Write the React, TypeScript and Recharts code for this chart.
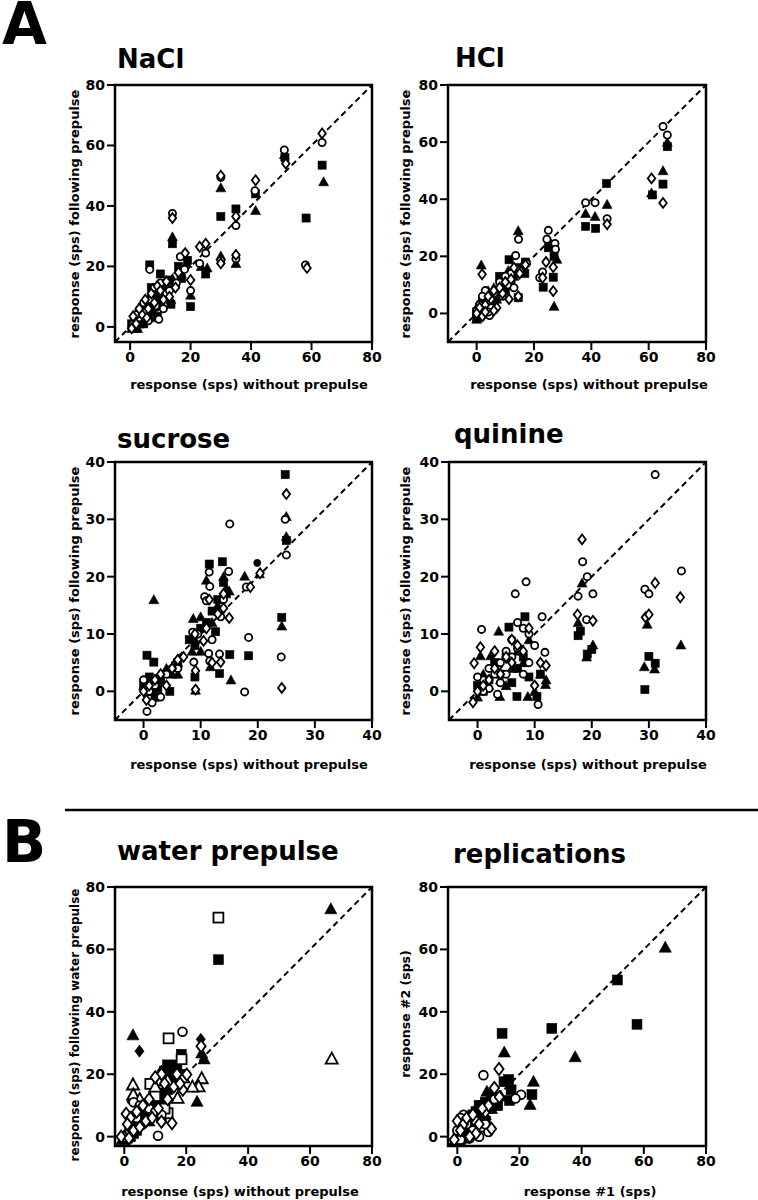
import React from "react";
import { ScatterChart, Scatter, XAxis, YAxis, ReferenceArea, ReferenceLine } from "recharts";

type Pt = [number, number];
type Kind = "circle" | "square" | "triangle" | "diamond";

// ---- NaCl ----
const naclSquares: Pt[] = [
  [63.5, 53.5], [51.2, 56], [58.2, 36], [41.5, 44], [35, 39], [30, 36.5], [25, 17.5], [20, 6.7], [14, 27.5],
  [10, 17.5], [6.5, 20.5], [16, 20], [13.5, 7.5], [17, 16], [19, 22], [12, 13], [8.5, 11], [10, 8], [7, 9],
  [5.5, 6], [4, 3], [2.5, 1.5], [1, 0], [3.5, 5], [6, 4], [8, 6.5], [11, 10], [2, -0.5], [4.5, 1], [9, 3.5],
  [15, 14], [13, 15.5], [7, 13], [5, 7.5], [3, 3], [0.5, 1], [1.5, 2.5], [3, 4.5], [4, 6.5], [5, 5],
  [6, 7.5], [7, 6], [8, 10], [9, 8], [2, 3.5],
];
const naclTriangles: Pt[] = [
  [64, 48], [51, 57], [41.5, 38.5], [35, 21], [30, 46], [30, 23.5], [25.5, 19.5], [23.5, 20], [20, 10.5],
  [14, 29.8], [13.5, 9], [18.8, 21], [16, 19], [12, 12], [9, 11], [6, 8], [7.5, 5], [4, 5], [2, 2], [1, 0.5],
  [3, 1], [5, 3.5], [10, 7], [11, 14], [14, 16], [17, 17.5], [8, 9.5], [2.5, -0.5], [4.5, 6.5], [6.5, 3],
  [0.5, -0.5], [1.5, 1.5], [3, 3.5], [4, 2], [5.5, 5], [6, 6.5], [7, 8], [8, 7], [9.5, 9.5], [3.5, 6],
];
const naclCircles: Pt[] = [
  [63.5, 61], [51, 58.5], [58, 20.5], [41.3, 45], [35, 33.5], [35, 22.5], [30, 49.5], [30, 22], [25, 24.4],
  [23, 21], [20, 12], [14, 37.5], [6.5, 19], [16.6, 23.2], [15.3, 14.5], [10, 14.5], [8, 13], [9.5, 2.5],
  [7, 9], [5, 5], [3, 3], [1, 1], [12, 11], [4.5, 8], [2, 4], [11, 6], [6, 2], [13, 12], [18, 19], [8.5, 7],
];
const naclDiamonds: Pt[] = [
  [63.5, 64], [51.5, 54], [58.5, 19.5], [41.5, 48.5], [35, 36.5], [35, 23.8], [30, 50], [30, 21], [25, 27.5],
  [23, 26.5], [20, 15.5], [14, 36], [18.2, 24.4], [16, 18], [12, 15], [9, 13.5], [7, 11], [5, 9], [1, 3.5],
  [2, 1], [4, 4], [6, 6], [8, 8], [10, 12], [11, 9], [13, 10], [3, 6], [15, 13], [0.5, -0.5], [5.5, 3],
];

// ---- HCl ----
const hclSquares: Pt[] = [
  [66.5, 58.4], [65, 45.3], [61.3, 41.5], [45.3, 45.5], [38, 30.5], [41.5, 29.8], [26.7, 12.7], [23.2, 9.2],
  [16.8, 14], [11.3, 18.8], [14.5, 5.5], [27, 20], [25, 23], [12, 12], [9, 10], [7, 6], [5, 4], [3, 2], [1, 0],
  [0, -1.5], [2, 5], [4, 1], [6, 3], [10, 8], [13, 14], [15, 16], [8, 13], [17, 18], [1.5, 3],
  [0, 0.5], [1, 2], [2, 1], [3, 4], [4, 3], [5, 6], [6, 5], [2.5, 3], [1.5, -0.5], [4.5, 5],
];
const hclTriangles: Pt[] = [
  [66.5, 60], [65, 50], [61, 42.2], [45.5, 38.2], [38, 35], [41.3, 34], [27, 2.5], [14.5, 29], [1.6, 17],
  [26, 24], [28, 19], [13, 13], [10, 12], [9, 9], [11, 15], [5, 6], [3, 4], [1, 1], [0, -2], [2, 2], [4, 8],
  [7, 5], [6, 9], [12, 10], [16, 17], [0.5, 3], [0.5, 0], [1.5, 3.5], [2.5, 1.5], [3.5, 2.5], [4.5, 4],
  [6, 6.5], [7, 7], [3, 6], [5.5, 3], [1, -1],
];
const hclCircles: Pt[] = [
  [65, 65.5], [66.5, 62.5], [45.5, 33.2], [38, 38.8], [41.3, 38.8], [25, 29.1], [24.5, 26], [27.3, 24.5],
  [27.5, 22.5], [23, 14.5], [14.6, 26], [13.6, 20.3], [17.4, 17.5], [12, 14], [10, 13], [8, 11], [6, 7],
  [3, 8], [2, 6], [1, 3], [0, 1], [4, 4], [5, 2], [4.5, -0.7], [11, 10], [13, 9], [9, 6], [15, 15], [4, 0.5],
  [22, 12.5],
];
const hclDiamonds: Pt[] = [
  [65, 38.7], [61, 47.3], [45.5, 31.2], [26.7, 16.2], [26.7, 7.8], [24.2, 18], [23, 12.5], [1.9, 13.7],
  [14.5, 6], [11.3, 5], [9, 7], [7, 2], [5, 5], [3, 3], [1, 2], [0, 0], [2, -1], [4, 6], [6, 8], [8, 9],
  [10, 11], [12, 12], [15, 14], [17, 17], [13, 16], [6, 1], [3, 0.5],
];

// ---- sucrose ----
const sucroseSquares: Pt[] = [
  [24.8, 37.8], [25, 26.3], [24.2, 12.9], [13.8, 22.6], [11.5, 22.2], [12.6, 10.4], [15.1, 6.4], [18.4, 6.2],
  [13.3, 3.1], [0.6, 6.3], [1.8, 5.1], [4.6, 0], [9, 2.5], [14, 19], [13, 16], [12, 14], [10, 11], [9, 8],
  [6, 5], [3, 2], [1, 0], [2, -1], [0, 1], [8, 9], [11, 12], [14.5, 17], [1, 2.5], [2.5, 0.5],
];
const sucroseTriangles: Pt[] = [
  [25, 30.5], [25, 27], [24.2, 11.4], [17.7, 20.1], [11, 19.4], [15.3, 2], [1.8, 16], [9.1, 0.2], [8.7, 12.7],
  [14.5, 18], [14, 20], [13, 15], [12, 12], [9, 9], [10, 7], [6, 5], [5, 3], [3, 2], [1, 0], [0, 1], [2, -1],
  [8.5, 7], [11.7, 4.3], [20.3, 20.5], [10, 13], [15, 17.5], [4, 4], [6, 3],
];
const sucroseCircles: Pt[] = [
  [24.8, 30], [25, 23.8], [24.1, 6], [15.1, 29.2], [18, 18.2], [11.5, 20.8], [14.9, 20.9], [11.6, 18.3],
  [18.4, 9.4], [17.7, -0.1], [0.6, -3.5], [11.4, 6.6], [8.8, 5.1], [8.6, 10.3], [10.7, 16.5], [11, 15.8],
  [13.3, 6.5], [11.6, 5.3], [13.5, 13], [12, 9], [14, 16], [6, 4], [4, 3], [2, 1], [1, 0], [0, 2], [3, -1],
  [5, 4], [9.5, 10], [1.5, -2],
];
const sucroseDots: Pt[] = [[19.9, 22.4]];
const sucroseDiamonds: Pt[] = [
  [25, 34.4], [24.2, 0.6], [20.4, 20.6], [18.7, 18.2], [9.1, 3.6], [9.1, 0.3], [10.5, 8.8], [14, 14.5],
  [15, 12.8], [13, 13.5], [12, 5], [13.5, 5.1], [11, 11], [9, 10], [6, 5.5], [5, 4], [3, 3], [1, 1], [0, 0],
  [2, 2], [4, 1], [0.5, -1.5], [7, 6], [11.5, 16], [14, 17],
];

// ---- quinine ----
const quinineSquares: Pt[] = [
  [29.3, 0.3], [30, 6.1], [31.1, 4.9], [17.6, 9.7], [18, 10.5], [20, 7.3], [19.2, 6.5], [5.5, 11.2], [8.3, 13],
  [6.9, -0.9], [10.4, -0.9], [7, 4], [8, 6], [9, 2.5], [11, 3], [6, 1.5], [4, 3], [3, 5], [2, 2], [1, 0],
  [0, 1], [8.5, 5], [5, 6],
];
const quinineTriangles: Pt[] = [
  [35.6, 8.1], [29.7, 11.7], [29.2, 4.3], [31, 3.9], [18.3, 18.9], [17.6, 12], [20.2, 8.1], [19.1, 6],
  [3.7, 10.5], [8.8, -0.9], [11.9, 1.2], [3.9, -0.9], [0.5, 6.2], [2.3, 6.2], [7, 7], [8, 5], [11, 3],
  [12, 2], [10, 0], [6, 4], [5, 1], [2, 1], [1, 3], [0, -1], [9, 9], [4, 2],
];
const quinineCircles: Pt[] = [
  [31.1, 37.8], [18.4, 22.6], [19.2, 20], [17.6, 16.6], [20.2, 17], [19.1, 12.5], [35.7, 21], [29.3, 17.8],
  [30, 17], [6.6, 17], [8.5, 19.1], [0.7, 10.8], [11.3, 13], [11.8, 6.8], [10.6, -2.3], [7, 12], [8, 11],
  [9, 10], [6, 9], [5, 7], [4, 5], [3, 3], [2, 4], [1, 2], [0, 2.5], [2, 0.5], [3.5, -0.5], [5, 3], [7, 7.5],
  [9, 5], [10, 8], [6, 6], [1, 0], [4, 1.5], [8, 3],
];
const quinineDiamonds: Pt[] = [
  [18.3, 26.5], [17.5, 13.4], [20.2, 12.3], [35.5, 16.4], [31.1, 18.9], [29.4, 12.9], [30, 13.4], [0.5, 7.7],
  [-0.6, 4.9], [-0.8, -1.9], [11, 5], [12, 4.5], [10, 1], [7, 8], [5, 6], [3, 4], [2, 2], [1, 1], [0, 0],
  [4, 3], [6, 9], [8, 7], [9, 11], [3, 7], [6, 5],
];

// ---- water prepulse ----
const waterSquares: Pt[] = [
  [30.4, 56.7], [18.4, 26.4], [14, 23], [15, 22], [13, 21], [16, 19], [17, 18], [12, 12], [10, 10], [11, 8],
  [9, 11], [8, 7], [7, 6], [6, 5], [5, 4], [4, 2], [3, 1], [2, 0], [1, -0.5], [13, 14], [15, 16], [18, 20],
  [10, 14], [6, 9], [12, 6], [2, 1.5], [3, 3], [4, 5], [5, 6], [6, 6.5], [7, 8], [8, 9], [9, 8], [10, 11],
  [11, 12], [12, 10], [14, 15], [16, 21], [17, 23], [13, 19],
];
const waterOpenSquares: Pt[] = [
  [30.4, 70.2], [14.3, 31.5], [18.5, 24.8], [8.4, 16.9], [10, 13], [14, 7.5], [13, 9], [6, 10], [12, 18], [2, 2],
];
const waterTriangles: Pt[] = [
  [66.7, 73], [2.8, 32.6], [25, 26.8], [25.8, 24.9], [23.5, 11.3], [12, 20], [14, 22], [16, 17], [9, 11],
  [7, 8], [5, 6], [3, 4], [1, 1], [0, -1], [11, 13], [8, 5], [1, 2], [3, 2.5], [5, 5], [7, 6], [9, 9],
];
const waterOpenTriangles: Pt[] = [
  [67, 25], [25, 18.7], [24, 16.1], [17.2, 12.4], [2.8, 16.7], [2.9, 13.5], [19, 19], [14, 18], [10, 16],
  [0, 0], [5, 12], [22, 16],
];
const waterDiamonds: Pt[] = [
  [4.9, 27.4], [24.7, 31.2], [12, 21], [10, 12], [8, 10], [6, 7], [4, 4], [2, 2], [1, 0], [3, 1], [13, 11], [15, 18],
];
const waterOpenDiamonds: Pt[] = [
  [24.8, 29], [20.2, 19.9], [18.9, 15], [15.4, 4.3], [12, 4.8], [0.6, 7.3], [12, 20], [13, 17], [10, 19],
  [8, 12], [16, 16], [17, 20], [6, 10], [4, 8], [2, 6], [1, 4], [3, 2], [5, 3], [7, 5], [9, 6], [11, 9],
  [14, 12], [-1, 0], [1.5, -0.5], [18, 17],
];
const waterCircles: Pt[] = [
  [18.8, 33.6], [10.9, 0.3], [3, 11], [5, 10], [4, 6], [2, 3], [8, 9], [10, 8], [12, 7], [6, 4],
];
const waterDots: Pt[] = [[2.3, 11.5], [3, 12], [5, 8], [7, 9], [9, 10], [4, 3], [1, 1]];

// ---- replications ----
const repSquares: Pt[] = [
  [51.5, 50.2], [57.8, 36], [30.4, 34.7], [14.4, 33.1], [16.5, 18.3], [15, 17.6], [17.3, 15], [16.8, 11.6],
  [24, 13.5], [7, 10], [6, 8], [8, 7], [5, 5], [4, 3], [3, 1], [2, 0], [9, 5], [10, 9], [12, 11], [6, 2],
  [1, -1], [11, 14], [13, 10], [5, 7], [6, 6], [7, 8], [8, 10], [4, 5], [3, 3], [9, 11], [7, 4],
];
const repTriangles: Pt[] = [
  [66.9, 60.7], [37.9, 25.6], [15.1, 27.1], [24.5, 17.7], [23.4, 10.3], [9.5, 14.5], [12, 10], [10, 12],
  [8, 8], [7, 6], [5, 4], [3, 2], [1, 0], [-1, -1.5], [6, 9], [4, 1], [2, -0.5], [11, 9], [14, 13],
  [4, 4], [5, 6], [6, 4], [8, 10], [9, 7], [3, 5],
];
const repCircles: Pt[] = [
  [8.4, 19.7], [20.5, 13.4], [18.7, 12.2], [2, 7], [1, 6], [3, 4], [0, 2], [5, 2], [7, 0], [8, 3], [4, -0.5],
  [6, 5], [10, 1.5], [1, -1], [12, 12], [9, 4],
];
const repDiamonds: Pt[] = [
  [13.4, 21.7], [11.9, 15.6], [13.5, 12.7], [0, 5], [2, 4], [1, 2], [3, 6], [5, 7], [7, 4], [9, 8], [10, 10],
  [6, 1], [4, 0], [11, 2.5], [8, 9], [-1, -1],
];

const ticks80 = [0, 20, 40, 60, 80];
const ticks40 = [0, 10, 20, 30, 40];

const FONT = "'DejaVu Sans', sans-serif";

interface SeriesDef {
  data: Pt[];
  kind: Kind;
  filled: boolean;
}

const std = (sq: Pt[], tri: Pt[], circ: Pt[], dia: Pt[]): SeriesDef[] => [
  { data: sq, kind: "square", filled: true },
  { data: tri, kind: "triangle", filled: true },
  { data: circ, kind: "circle", filled: false },
  { data: dia, kind: "diamond", filled: false },
];

function Marker(props: any) {
  const { cx, cy, kind, filled, s } = props;
  if (cx == null || cy == null) return null;
  const fill = filled ? "#000" : "#fff";
  const sw = filled ? 0.6 : 1.8;
  if (kind === "circle") return <circle cx={cx} cy={cy} r={s * 0.4} fill={fill} stroke="#000" strokeWidth={sw} />;
  if (kind === "square") {
    const h = s * 0.45;
    return <rect x={cx - h} y={cy - h} width={2 * h} height={2 * h} fill={fill} stroke="#000" strokeWidth={sw} />;
  }
  if (kind === "triangle") {
    const pts = `${cx},${cy - s * 0.55} ${cx - s * 0.55},${cy + s * 0.45} ${cx + s * 0.55},${cy + s * 0.45}`;
    return <polygon points={pts} fill={fill} stroke="#000" strokeWidth={sw} />;
  }
  const pts = `${cx},${cy - s * 0.55} ${cx + s * 0.42},${cy} ${cx},${cy + s * 0.55} ${cx - s * 0.42},${cy}`;
  return <polygon points={pts} fill={fill} stroke="#000" strokeWidth={sw} />;
}

interface PanelProps {
  left: number;
  top: number;
  w: number;
  h: number;
  xDomain: [number, number];
  yDomain: [number, number];
  ticks: number[];
  series: SeriesDef[];
  s: number;
}

const tickStyle = { fill: "#000", fontSize: 14, fontWeight: 700, fontFamily: FONT };

function Panel({ left, top, w, h, xDomain, yDomain, ticks, series, s }: PanelProps) {
  const lo = Math.max(xDomain[0], yDomain[0]);
  const hi = Math.min(xDomain[1], yDomain[1]);
  return (
    <div style={{ position: "absolute", left: left - 60, top: top - 10 }}>
      <ScatterChart width={w + 70} height={h + 60} margin={{ top: 10, right: 10, bottom: 0, left: 0 }}>
        <XAxis
          type="number"
          dataKey="x"
          domain={xDomain}
          ticks={ticks}
          interval={0}
          allowDataOverflow
          axisLine={false}
          tickSize={8}
          tickLine={{ stroke: "#000", strokeWidth: 2 }}
          tick={tickStyle}
          height={50}
        />
        <YAxis
          type="number"
          dataKey="y"
          domain={yDomain}
          ticks={ticks}
          interval={0}
          allowDataOverflow
          axisLine={false}
          tickSize={8}
          tickLine={{ stroke: "#000", strokeWidth: 2 }}
          tick={tickStyle}
          width={60}
        />
        <ReferenceArea
          x1={xDomain[0]}
          x2={xDomain[1]}
          y1={yDomain[0]}
          y2={yDomain[1]}
          fill="none"
          stroke="#000"
          strokeWidth={2.5}
          ifOverflow="visible"
        />
        <ReferenceLine
          segment={[{ x: lo, y: lo }, { x: hi, y: hi }]}
          stroke="#000"
          strokeWidth={2}
          strokeDasharray="6 4"
          ifOverflow="visible"
        />
        {series.map((sr, i) => (
          <Scatter
            key={i}
            data={sr.data.map(([x, y]) => ({ x, y }))}
            isAnimationActive={false}
            shape={(p: any) => <Marker {...p} kind={sr.kind} filled={sr.filled} s={s} />}
          />
        ))}
      </ScatterChart>
    </div>
  );
}

const bold = { fontFamily: FONT, fontWeight: 700, fill: "#000" } as const;

function YLabel({ x, y, text, size }: { x: number; y: number; text: string; size: number }) {
  return (
    <text x={x} y={y} transform={`rotate(-90 ${x} ${y})`} textAnchor="middle" fontSize={size} style={bold}>
      {text}
    </text>
  );
}

export default function App() {
  return (
    <div style={{ position: "absolute", left: 0, top: 0, width: 758, height: 1200, background: "#fff" }}>
      <svg width={758} height={1200} style={{ position: "absolute", left: 0, top: 0 }}>
        <text x={2} y={44} fontSize={58} style={bold}>A</text>
        <text x={2} y={862} fontSize={58} style={bold}>B</text>
        <line x1={65} x2={758} y1={810} y2={810} stroke="#000" strokeWidth={2.5} />

        <text x={117} y={68} fontSize={26} style={bold}>NaCl</text>
        <text x={455} y={67} fontSize={26} style={bold}>HCl</text>
        <text x={117} y={448} fontSize={26} style={bold}>sucrose</text>
        <text x={454} y={443} fontSize={26} style={bold}>quinine</text>
        <text x={117} y={860} fontSize={26} style={bold}>water prepulse</text>
        <text x={453} y={863} fontSize={26} style={bold}>replications</text>

        <YLabel x={79} y={214} size={13} text="response (sps) following prepulse" />
        <YLabel x={410} y={214} size={13} text="response (sps) following prepulse" />
        <YLabel x={79} y={591} size={13} text="response (sps) following prepulse" />
        <YLabel x={410} y={591} size={13} text="response (sps) following prepulse" />
        <YLabel x={79} y={1025} size={12} text="response (sps) following water prepulse" />
        <YLabel x={410} y={1014} size={12.5} text="response #2 (sps)" />

        <text x={249} y={389} fontSize={13} textAnchor="middle" style={bold}>response (sps) without prepulse</text>
        <text x={589} y={389} fontSize={13} textAnchor="middle" style={bold}>response (sps) without prepulse</text>
        <text x={249} y={769} fontSize={13} textAnchor="middle" style={bold}>response (sps) without prepulse</text>
        <text x={588} y={769} fontSize={13} textAnchor="middle" style={bold}>response (sps) without prepulse</text>
        <text x={240} y={1196} fontSize={13} textAnchor="middle" style={bold}>response (sps) without prepulse</text>
        <text x={590} y={1196} fontSize={13} textAnchor="middle" style={bold}>response #1 (sps)</text>
      </svg>

      <Panel left={115} top={85} w={257} h={257} xDomain={[-5, 80]} yDomain={[-5, 80]} ticks={ticks80} s={9}
        series={std(naclSquares, naclTriangles, naclCircles, naclDiamonds)} />
      <Panel left={448} top={85} w={258} h={257} xDomain={[-10, 80]} yDomain={[-10, 80]} ticks={ticks80} s={9}
        series={std(hclSquares, hclTriangles, hclCircles, hclDiamonds)} />
      <Panel left={115} top={462} w={257} h={258} xDomain={[-5, 40]} yDomain={[-5, 40]} ticks={ticks40} s={9}
        series={[...std(sucroseSquares, sucroseTriangles, sucroseCircles, sucroseDiamonds),
          { data: sucroseDots, kind: "circle", filled: true }]} />
      <Panel left={449} top={462} w={257} h={258} xDomain={[-5, 40]} yDomain={[-5, 40]} ticks={ticks40} s={9}
        series={std(quinineSquares, quinineTriangles, quinineCircles, quinineDiamonds)} />
      <Panel left={115} top={887} w={257} h={259} xDomain={[-3, 80]} yDomain={[-3, 80]} ticks={ticks80} s={11}
        series={[
          { data: waterSquares, kind: "square", filled: true },
          { data: waterTriangles, kind: "triangle", filled: true },
          { data: waterDiamonds, kind: "diamond", filled: true },
          { data: waterDots, kind: "circle", filled: true },
          { data: waterOpenSquares, kind: "square", filled: false },
          { data: waterOpenTriangles, kind: "triangle", filled: false },
          { data: waterCircles, kind: "circle", filled: false },
          { data: waterOpenDiamonds, kind: "diamond", filled: false },
        ]} />
      <Panel left={448} top={887} w={258} h={259} xDomain={[-3, 80]} yDomain={[-3, 80]} ticks={ticks80} s={11}
        series={std(repSquares, repTriangles, repCircles, repDiamonds)} />
    </div>
  );
}
